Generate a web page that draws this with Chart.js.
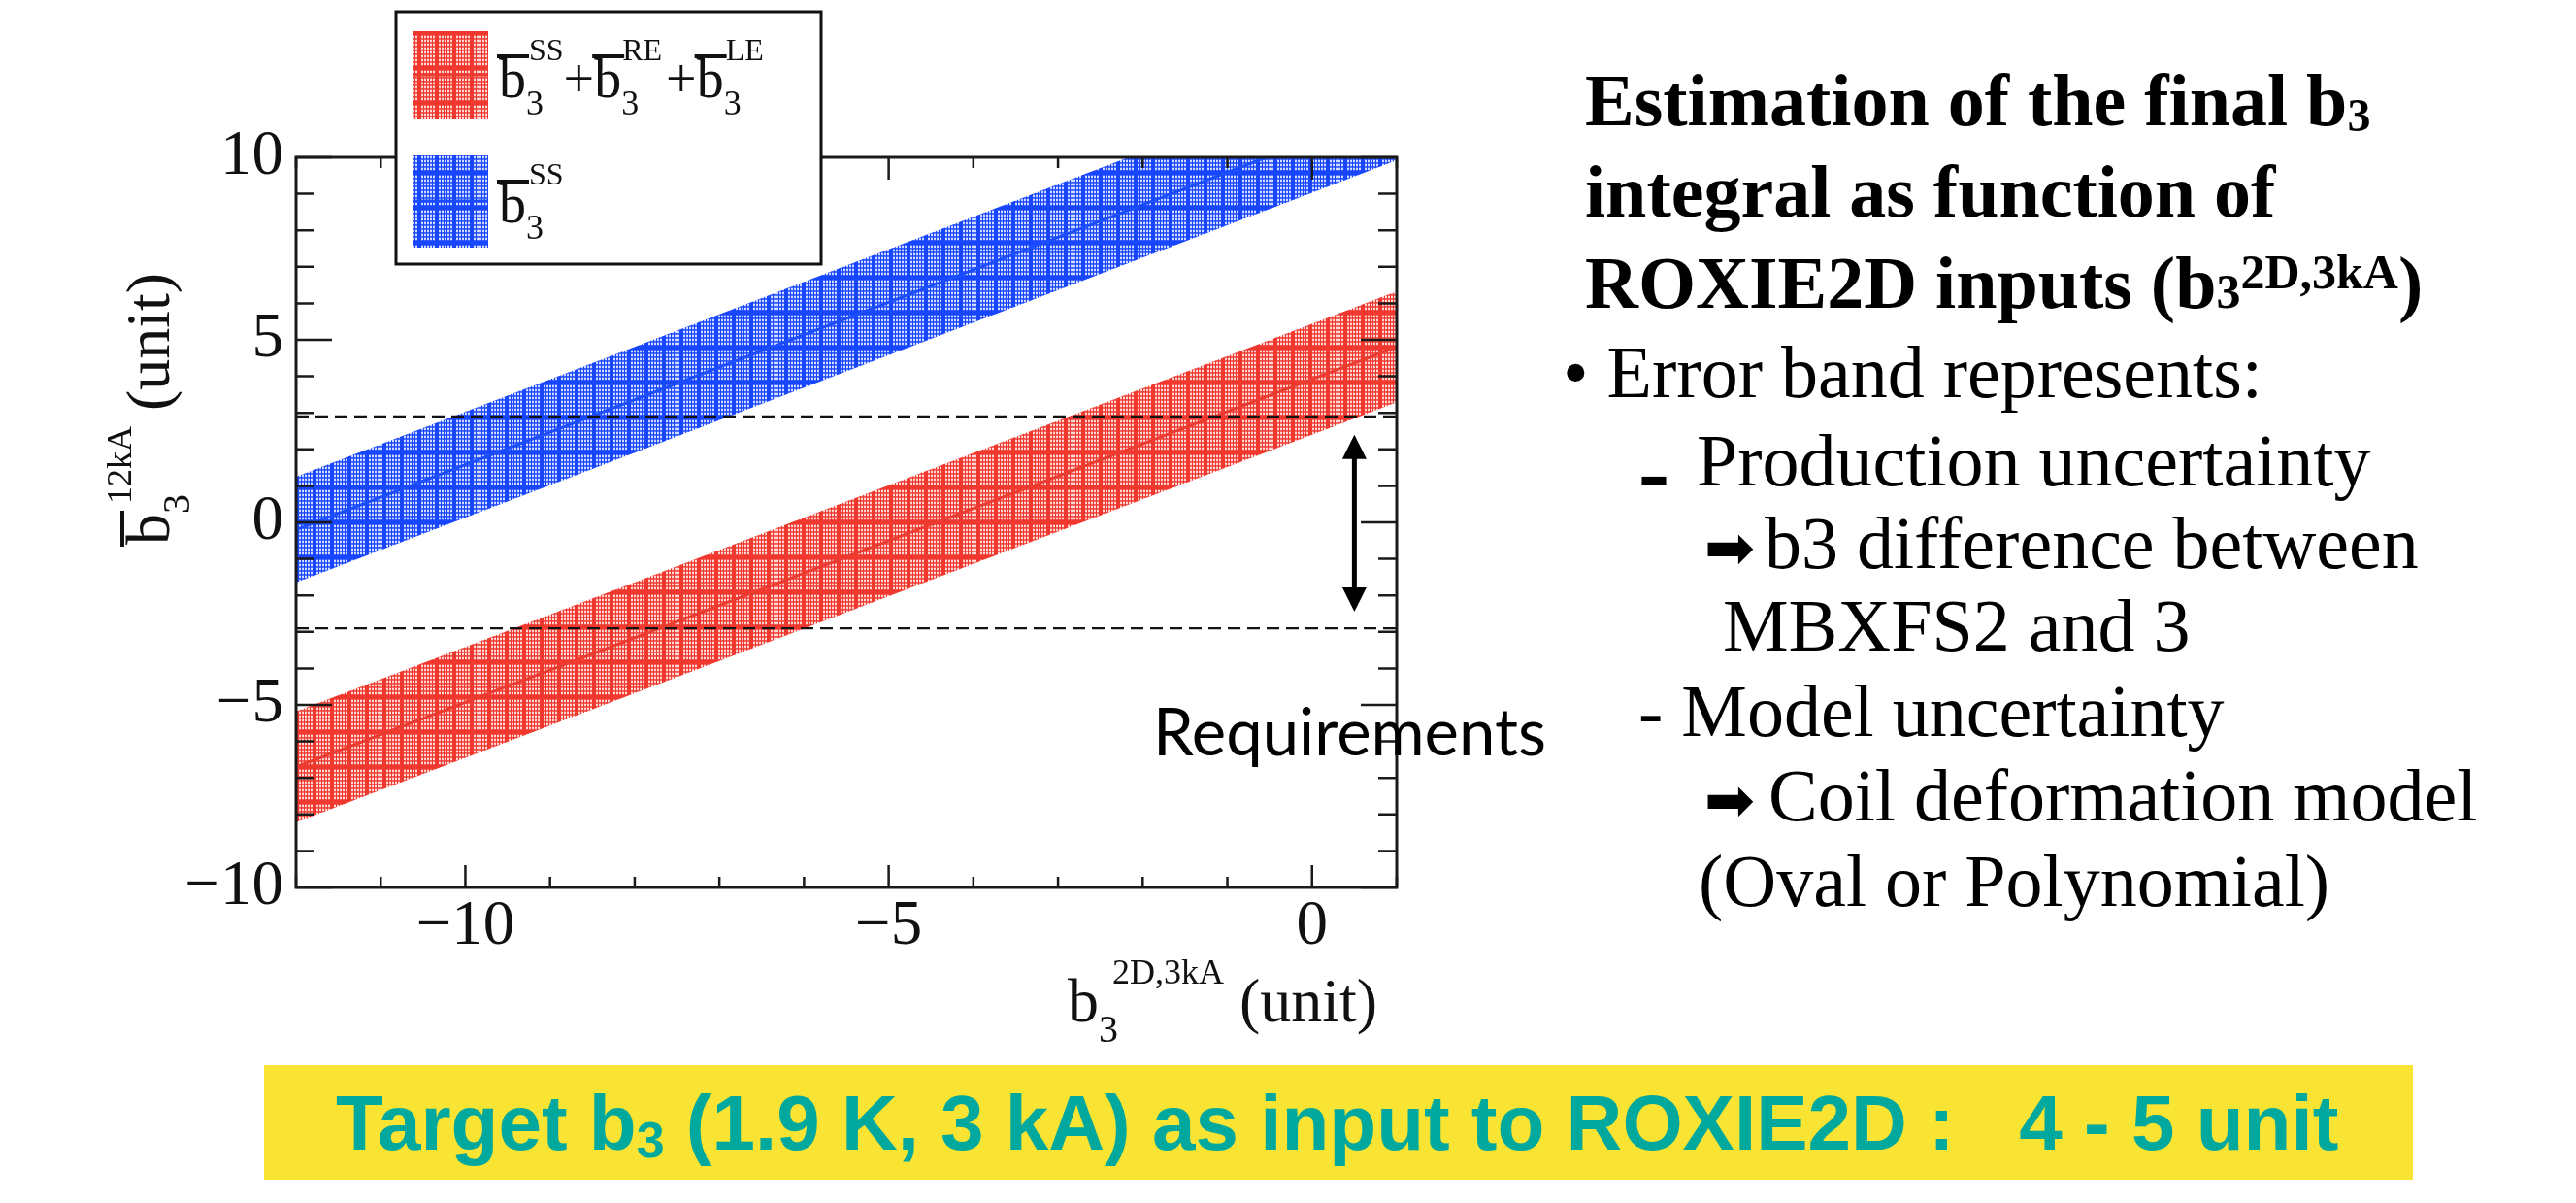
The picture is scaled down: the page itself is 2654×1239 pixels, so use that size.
<!DOCTYPE html>
<html>
<head>
<meta charset="utf-8">
<script src="https://cdn.jsdelivr.net/npm/chart.js@4.4.1/dist/chart.umd.min.js"></script>
<style>
  html, body { margin: 0; padding: 0; background: #fff; }
  #wrap { position: relative; width: 2654px; height: 1239px; overflow: hidden; }
  #plot { position: absolute; left: 0; top: 0; }
  .txt { position: absolute; white-space: pre; line-height: 1; font-family: "Liberation Serif", "Times New Roman", serif; font-size: 76px; color: #000; }
  .bold { font-weight: bold; }
  .s1 { font-size: 48px; line-height: 0; vertical-align: -6px; }
  .s3 { font-size: 50px; line-height: 0; }
  .sp { font-size: 50px; line-height: 0; vertical-align: 20px; }
  .arr { font-family: "DejaVu Sans", sans-serif; font-size: 62px; }
  .dash { font-family: "DejaVu Sans", sans-serif; font-weight: bold; font-size: 64px; position: relative; top: 13px; }
  #req { position: absolute; left: 1188px; top: 719px; font-family: Lato, sans-serif; font-size: 67px; line-height: 1; white-space: pre; }
  #target { position: absolute; left: 272px; top: 1097px; width: 2214px; height: 118px; background: #f9e333; }
  #target .t { position: absolute; left: 74px; top: 20px; white-space: pre; line-height: 1; font-family: "Liberation Sans", Arial, sans-serif; font-weight: bold; font-size: 80px; color: #00a89d; }
  #target .t .sb { font-size: 52px; position: relative; top: 8px; }
</style>
</head>
<body>
<div id="wrap">
  <canvas id="plot" width="2654" height="1239"></canvas>

  <div class="txt bold" style="left:1633px;top:65px">Estimation of the final b<span class="s1">3</span></div>
  <div class="txt bold" style="left:1633px;top:159px">integral as function of</div>
  <div class="txt bold" style="left:1633px;top:253px">ROXIE2D inputs (b<span class="s3">3</span><span class="sp">2D,3kA</span>)</div>
  <div class="txt" style="left:1610px;top:345px">• Error band represents:</div>
  <div class="txt" style="left:1688px;top:436px"><span class="dash">–</span></div>
  <div class="txt" style="left:1748px;top:436px">Production uncertainty</div>
  <div class="txt" style="left:1756px;top:521px"><span class="arr">➡</span></div>
  <div class="txt" style="left:1818px;top:521px">b3 difference between</div>
  <div class="txt" style="left:1775px;top:606px">MBXFS2 and 3</div>
  <div class="txt" style="left:1688px;top:694px">- Model uncertainty</div>
  <div class="txt" style="left:1756px;top:781px"><span class="arr">➡</span></div>
  <div class="txt" style="left:1822px;top:781px">Coil deformation model</div>
  <div class="txt" style="left:1750px;top:869px">(Oval or Polynomial)</div>

  <div id="req">Requirements</div>

  <div id="target"><span class="t">Target b<span class="sb">3</span> (1.9 K, 3 kA) as input to ROXIE2D :   4 - 5 unit</span></div>
</div>

<script>
// axis ranges and ticks
const xRange = [-12, 1];
const yRange = [-10, 10];
const xMajor = [-10, -5, 0];
const xMinor = [-12, -11, -9, -8, -7, -6, -4, -3, -2, -1, 1];
const yMajor = [-10, -5, 0, 5, 10];
const yMinor = [-9, -8, -7, -6, -4, -3, -2, -1, 1, 2, 3, 4, 6, 7, 8, 9];

// bands: b3 input (2D, 3kA) vs b3 integral at 12 kA
const bandX = [-12, -8, -4, 0, 1];
const totalMid = [-6.7, -3.16, 0.38, 3.92, 4.8];
const totalHi = [-5.18, -1.64, 1.9, 5.44, 6.33];
const totalLo = [-8.22, -4.68, -1.14, 2.4, 3.29];
const ssMid = [-0.2, 3.36, 6.92, 10.48, 11.37];
const ssHi = [1.25, 4.81, 8.37, 11.93, 12.82];
const ssLo = [-1.65, 1.91, 5.47, 9.03, 9.92];

// requirement window
const reqX = [-12, 1];
const reqHi = [2.9, 2.9];
const reqLo = [-2.9, -2.9];
const arrowX = [0.5];
const arrowY = [2.4, -2.45];

const redLine = '#ec3b30', redBase = '#f0382e';
const blueLine = '#1c4eff', blueBase = '#1846ff';
const serif = '"Liberation Serif", "Times New Roman", serif';

function hatch(base) {
  const c = document.createElement('canvas');
  c.width = 18; c.height = 36;
  const g = c.getContext('2d');
  g.fillStyle = base;
  g.fillRect(0, 0, 18, 36);
  g.fillStyle = 'rgba(255,255,255,0.9)';
  for (let x = 3; x <= 15; x += 3) {
    for (let y = 2; y <= 30; y += 4) {
      g.beginPath();
      g.ellipse(x, y, 1, 1.4, 0, 0, Math.PI * 2);
      g.fill();
    }
  }
  return g.createPattern(c, 'repeat');
}
const redHatch = hatch(redBase);
const blueHatch = hatch(blueBase);

const pts = (xs, ys) => xs.map((x, i) => ({ x: x, y: ys[i] }));
const fmt = (v) => (v < 0 ? '\u2212' + Math.abs(v) : String(v));

// draws b, sub/superscripts etc. part by part, returns advance
function rich(ctx, parts, x, y) {
  let cx = x;
  parts.forEach((p) => {
    ctx.font = p.size + 'px ' + serif;
    const w = ctx.measureText(p.t).width;
    const px = cx + (p.dx || 0);
    ctx.fillText(p.t, px, y + (p.dy || 0));
    if (p.bar) ctx.fillRect(px + p.bar[0], y + p.bar[1], w + p.bar[2], p.bar[3]);
    if (!p.stay) cx = px + w + (p.gap || 0);
  });
  return cx - x;
}

const decor = {
  id: 'decor',
  afterDatasetsDraw(chart) {
    const ctx = chart.ctx;
    const { left, right, top, bottom } = chart.chartArea;
    const xs = chart.scales.x, ys = chart.scales.y;
    ctx.save();
    ctx.strokeStyle = '#1a1a1a';
    ctx.lineWidth = 2.5;
    ctx.beginPath();
    const tick = (vals, len, horiz) => {
      vals.forEach((v) => {
        if (horiz) {
          const px = xs.getPixelForValue(v);
          ctx.moveTo(px, bottom); ctx.lineTo(px, bottom - len);
          ctx.moveTo(px, top); ctx.lineTo(px, top + len);
        } else {
          const py = ys.getPixelForValue(v);
          ctx.moveTo(left, py); ctx.lineTo(left + len, py);
          ctx.moveTo(right, py); ctx.lineTo(right - len, py);
        }
      });
    };
    tick(xMajor, 23, true);
    tick(xMinor, 11, true);
    tick(yMajor, 37, false);
    tick(yMinor, 19, false);
    ctx.stroke();
    ctx.lineWidth = 3;
    ctx.strokeRect(left, top, right - left, bottom - top);

    // double arrow
    const ax = xs.getPixelForValue(arrowX[0]);
    const y1 = ys.getPixelForValue(arrowY[0]);
    const y2 = ys.getPixelForValue(arrowY[1]);
    ctx.fillStyle = '#000';
    ctx.strokeStyle = '#000';
    ctx.lineWidth = 5;
    ctx.beginPath();
    ctx.moveTo(ax, y1 + 20); ctx.lineTo(ax, y2 - 20);
    ctx.stroke();
    ctx.beginPath();
    ctx.moveTo(ax, y1); ctx.lineTo(ax - 12.5, y1 + 25); ctx.lineTo(ax + 12.5, y1 + 25); ctx.closePath();
    ctx.moveTo(ax, y2); ctx.lineTo(ax - 12.5, y2 - 25); ctx.lineTo(ax + 12.5, y2 - 25); ctx.closePath();
    ctx.fill();
    ctx.restore();
  },
  afterDraw(chart) {
    const ctx = chart.ctx;
    ctx.save();
    // legend
    ctx.fillStyle = '#fff';
    ctx.fillRect(408, 12, 438, 260);
    ctx.strokeStyle = '#111';
    ctx.lineWidth = 3;
    ctx.strokeRect(408, 12, 438, 260);
    ctx.fillStyle = redHatch;
    ctx.fillRect(425, 32, 78, 91);
    ctx.fillStyle = blueHatch;
    ctx.fillRect(425, 160, 78, 95);
    ctx.lineWidth = 3;
    ctx.strokeStyle = redLine;
    ctx.beginPath(); ctx.moveTo(425, 77); ctx.lineTo(503, 77); ctx.stroke();
    ctx.strokeStyle = blueLine;
    ctx.beginPath(); ctx.moveTo(425, 207); ctx.lineTo(503, 207); ctx.stroke();

    ctx.fillStyle = '#111';
    ctx.textBaseline = 'alphabetic';
    ctx.textAlign = 'left';
    const bar = [-2, -44, 5, 4];
    rich(ctx, [
      { t: 'b', size: 56, bar: bar },
      { t: '3', size: 36, dy: 18, stay: true },
      { t: 'SS', size: 32, dy: -38, dx: 3 },
      { t: '+', size: 56 },
      { t: 'b', size: 56, bar: bar },
      { t: '3', size: 36, dy: 18, stay: true },
      { t: 'RE', size: 32, dy: -38, dx: 1, gap: 4 },
      { t: '+', size: 56 },
      { t: 'b', size: 56, bar: bar },
      { t: '3', size: 36, dy: 18, stay: true },
      { t: 'LE', size: 32, dy: -38, dx: 2 }
    ], 514, 100);
    rich(ctx, [
      { t: 'b', size: 56, bar: bar },
      { t: '3', size: 36, dy: 17, stay: true },
      { t: 'SS', size: 32, dy: -39, dx: 3 }
    ], 514, 229);

    // axis titles
    rich(ctx, [
      { t: 'b', size: 64 },
      { t: '3', size: 40, dy: 21, stay: true },
      { t: '2D,3kA', size: 36, dy: -39, dx: 14 },
      { t: ' (unit)', size: 64 }
    ], 1100, 1052);
    ctx.translate(174, 561);
    ctx.rotate(-Math.PI / 2);
    rich(ctx, [
      { t: 'b', size: 64, bar: [-2, -50, 5, 4] },
      { t: '3', size: 40, dy: 21, stay: true },
      { t: '12kA', size: 36, dy: -39, dx: 10 },
      { t: ' (unit)', size: 64 }
    ], 0, 0);
    ctx.restore();
  }
};

new Chart(document.getElementById('plot'), {
  type: 'line',
  data: {
    datasets: [
      { data: pts(reqX, reqHi), borderColor: '#111', borderWidth: 2.2, borderDash: [13, 7], pointRadius: 0, fill: false },
      { data: pts(reqX, reqLo), borderColor: '#111', borderWidth: 2.2, borderDash: [13, 7], pointRadius: 0, fill: false },
      { data: pts(bandX, ssMid), borderColor: blueLine, borderWidth: 3, pointRadius: 0, fill: false },
      { data: pts(bandX, totalMid), borderColor: redLine, borderWidth: 3, pointRadius: 0, fill: false },
      { data: pts(bandX, ssHi), borderColor: 'rgba(0,0,0,0)', borderWidth: 1, pointRadius: 0, fill: false },
      { data: pts(bandX, ssLo), borderColor: 'rgba(0,0,0,0)', borderWidth: 1, pointRadius: 0, fill: '-1', backgroundColor: blueHatch },
      { data: pts(bandX, totalHi), borderColor: 'rgba(0,0,0,0)', borderWidth: 1, pointRadius: 0, fill: false },
      { data: pts(bandX, totalLo), borderColor: 'rgba(0,0,0,0)', borderWidth: 1, pointRadius: 0, fill: '-1', backgroundColor: redHatch }
    ]
  },
  options: {
    responsive: false,
    animation: false,
    devicePixelRatio: 1,
    layout: { padding: { left: 0, top: 162, right: 1215, bottom: 0 } },
    plugins: { legend: { display: false }, tooltip: { enabled: false } },
    scales: {
      x: {
        type: 'linear',
        min: xRange[0],
        max: xRange[1],
        grid: { display: false, drawTicks: false },
        border: { display: false },
        afterBuildTicks: (s) => { s.ticks = xMajor.map((v) => ({ value: v })); },
        afterFit: (s) => { s.height = 325; },
        ticks: {
          padding: 2,
          maxRotation: 0,
          color: '#111',
          font: { family: serif, size: 65 },
          callback: (v) => fmt(v)
        }
      },
      y: {
        type: 'linear',
        min: yRange[0],
        max: yRange[1],
        grid: { display: false, drawTicks: false },
        border: { display: false },
        afterBuildTicks: (s) => { s.ticks = yMajor.map((v) => ({ value: v })); },
        afterFit: (s) => { s.width = 305; },
        ticks: {
          padding: 13,
          color: '#111',
          font: { family: serif, size: 65 },
          callback: (v) => fmt(v)
        }
      }
    }
  },
  plugins: [decor]
});
</script>
</body>
</html>
